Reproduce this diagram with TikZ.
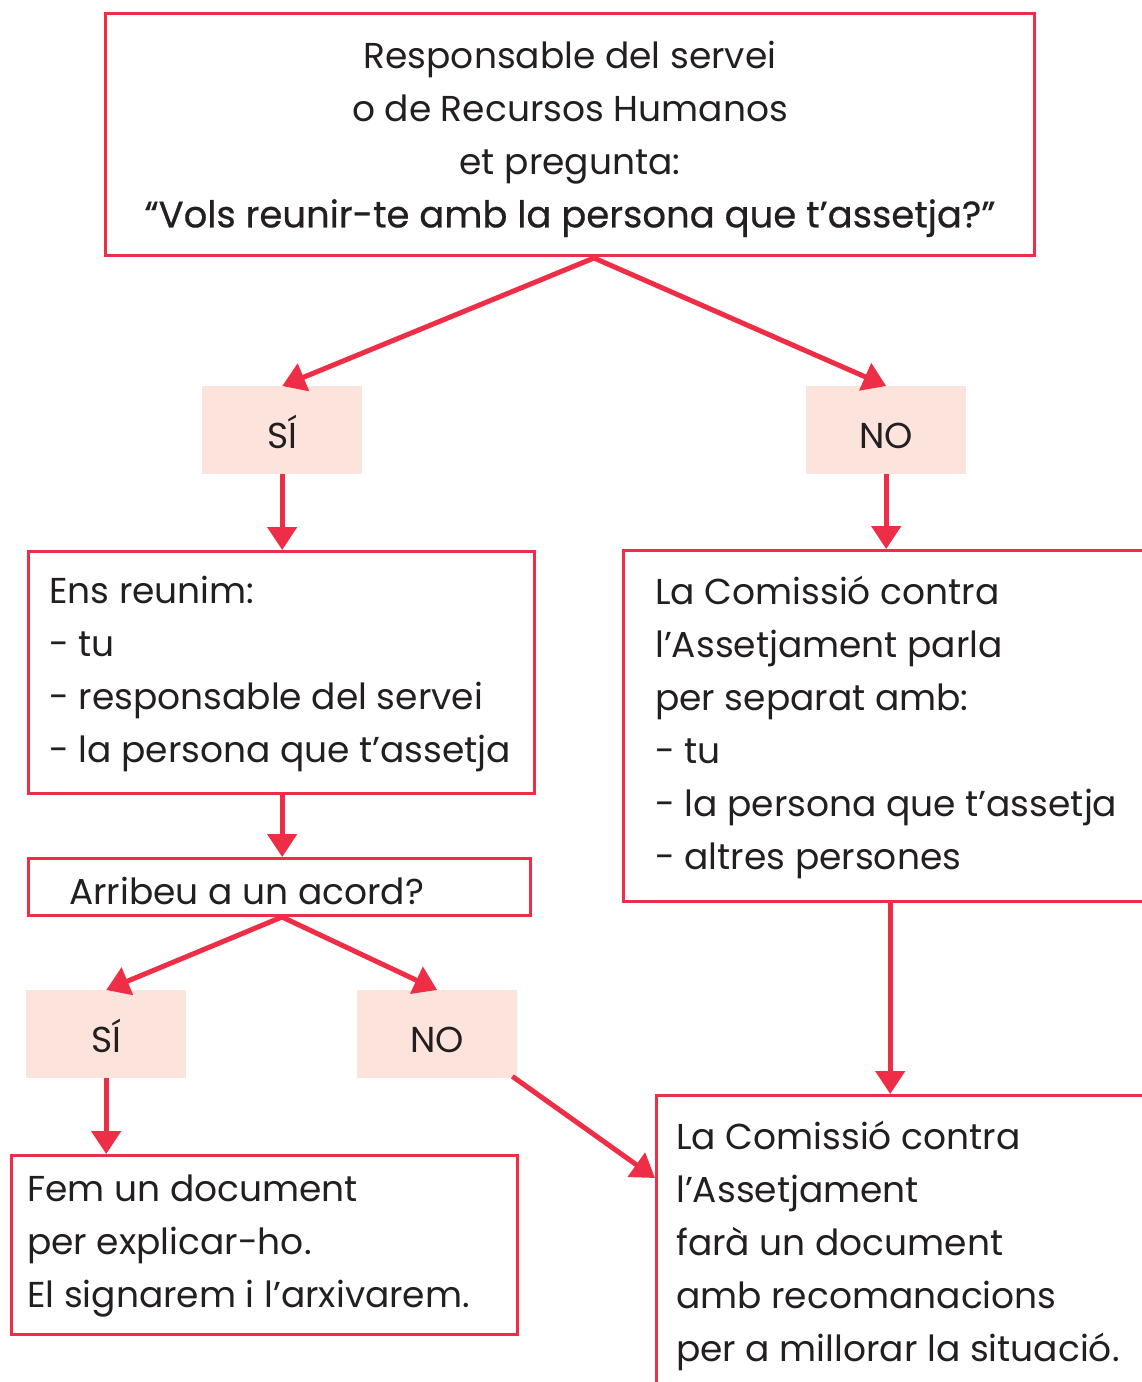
\documentclass[tikz,border=0pt]{standalone}
\usepackage{fontspec}
\setmainfont{Poppins}
\newfontfamily\medfont{Poppins}[FakeBold=0.6]
\usetikzlibrary{arrows.meta}
\definecolor{fcred}{HTML}{EE2E47}
\definecolor{fcpink}{HTML}{FCE3DC}
\definecolor{fctext}{HTML}{231F20}
\begin{document}
\begin{tikzpicture}[x=1pt,y=-1pt,
 box/.style={draw=fcred, line width=2.5pt, rectangle, inner sep=0pt, anchor=north west},
 choice/.style={fill=fcpink, rectangle, inner sep=0pt, anchor=north west,
   minimum width=160pt, minimum height=88pt, text=fctext,
   font=\fontsize{36}{53}\selectfont, text height=37pt, text depth=0pt},
 txt/.style={text=fctext, font=\fontsize{36}{53}\selectfont, align=left, inner sep=0pt, anchor=west},
 arr/.style={draw=fcred, line width=5pt, -{Triangle[length=23pt,width=29pt]}},
]
\useasboundingbox (0,0) rectangle (1142,1382);
\clip (0,0) rectangle (1142,1382);
% boxes
\node[box, minimum width=929pt, minimum height=242pt] (top) at (104,12) {};
\node[choice] (si1) at (202,386) {SÍ};
\node[choice] (no1) at (806,386) {NO};
\node[box, minimum width=506pt, minimum height=242pt] (ens) at (27,550) {};
\node[box, minimum width=502pt, minimum height=57pt] (acord) at (27,857) {};
\node[choice] (si2) at (26,990) {SÍ};
\node[choice] (no2) at (357,990) {NO};
\node[box, minimum width=506pt, minimum height=179pt] (fem) at (10,1154) {};
\node[box, minimum width=534pt, minimum height=351pt] (r1) at (622,549) {};
\node[box, minimum width=520pt, minimum height=302pt] (r2) at (655,1094) {};
% texts
\node[txt, align=center, anchor=center] (topt) at (570,139) {Responsable del servei\\o de Recursos Humanos\\et pregunta:\\{\medfont\fontsize{37}{53}\selectfont “Vols reunir-te amb la persona que t’assetja?”}};
\node[txt] (enst) at (49,674) {Ens reunim:\\- tu\\- responsable del servei\\- la persona que t’assetja};
\node[txt] (acordt) at (69,891) {Arribeu a un acord?};
\node[txt] (r1t) at (655,727) {La Comissió contra\\l’Assetjament parla\\per separat amb:\\- tu\\- la persona que t’assetja\\- altres persones};
\node[txt] (femt) at (27,1246) {Fem un document\\per explicar-ho.\\El signarem i l’arxivarem.};
\node[txt] (r2t) at (676,1246) {La Comissió contra\\l’Assetjament\\farà un document\\amb recomanacions\\per a millorar la situació.};
% connectors
\coordinate (f1) at (594,258);
\coordinate (f2) at (282,917);
\draw[arr] (f1) -- (si1.north);
\draw[arr] (f1) -- (no1.north);
\draw[arr] (si1.south) -- (si1.south |- ens.north);
\draw[arr] (no1.south) -- (no1.south |- r1.north);
\draw[arr] (si1.south |- ens.south) -- (si1.south |- acord.north);
\draw[arr] (f2) -- (si2.north);
\draw[arr] (f2) -- (no2.north);
\draw[arr] (si2.south) -- (si2.south |- fem.north);
\draw[arr] (r1.south) -- (r1.south |- r2.north);
\draw[arr] ([xshift=-5pt,yshift=2pt]no2.south east) -- ([yshift=-84pt]r2.north west);
\end{tikzpicture}
\end{document}
